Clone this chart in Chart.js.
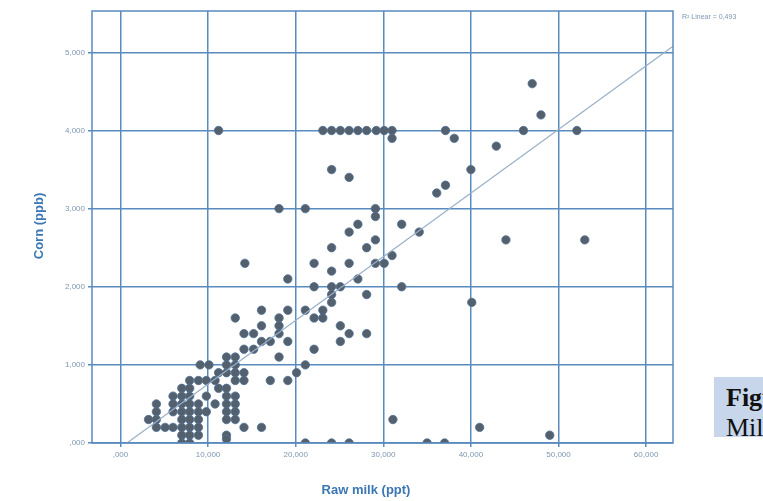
<!DOCTYPE html>
<html><head><meta charset="utf-8">
<script src="https://cdn.jsdelivr.net/npm/chart.js@4.4.1/dist/chart.umd.min.js"></script>
<style>
html,body{margin:0;padding:0;background:#fff;overflow:hidden;width:763px;height:501px}
#wrap{position:relative;width:763px;height:501px}
canvas{position:absolute;left:0;top:0}
#fig{position:absolute;left:714px;top:377px;width:60px;height:60px;background:#c7d6eb;overflow:hidden;font-family:"Liberation Serif","Times New Roman",serif;color:#111;font-size:26px;line-height:30px;padding:6px 0 0 12px;box-sizing:border-box;white-space:nowrap}
#fig b{font-weight:bold}
</style></head>
<body>
<div id="wrap">
<canvas id="c" width="763" height="501"></canvas>
<div id="fig"><b>Figure 4.</b><br>Milk</div>
</div>
<script>
// Raw milk (ppt) values, one per sample
const rawMilk = [
 11.2, 23.1, 24.1, 25.1, 26.1, 27.1, 28.1, 29.2, 30.1, 31.0, 31.0,
 37.1, 38.1, 42.9, 47.0, 48.0, 46.0, 52.1, 40.0, 37.1, 36.1, 32.1, 34.1, 44.0, 53.0, 31.0,
 24.1, 26.1, 18.1, 21.1, 29.1, 29.1, 27.1, 26.1, 24.1, 28.1, 29.1,
 14.2, 22.1, 26.1, 29.1, 30.1, 19.1, 24.1, 27.1, 22.1, 24.1, 25.1, 32.1,
 24.1, 24.1, 28.1, 40.1, 16.1, 19.1, 21.1, 23.1, 23.1, 22.1, 18.1, 18.1, 18.1,
 13.1, 16.1, 25.1, 15.2, 14.1, 26.1, 28.1, 16.1, 17.1, 19.1, 25.1,
 15.2, 14.1, 22.1, 18.1, 21.1, 20.1, 17.1, 19.1,
 16.1, 31.1, 41.0, 49.0, 21.1, 24.1, 26.1, 35.0, 37.0, 14.1, 14.1, 14.1,
 3.2, 4.1, 4.1, 4.1, 4.1, 5.1, 6.0, 6.0, 6.0, 6.0,
 7.0, 7.0, 7.0, 7.0, 7.0, 7.0, 7.0, 7.0,
 7.9, 7.9, 7.9, 7.9, 7.9, 7.9, 7.9, 7.9, 7.9,
 8.9, 8.9, 8.9, 8.9, 8.9, 8.9, 9.1, 9.8, 9.8, 9.8, 10.1, 10.8, 10.8, 11.2, 11.2,
 12.1, 12.1, 12.1, 12.1, 12.1, 12.1, 12.1, 12.1, 12.1, 12.1,
 13.1, 13.1, 13.1, 13.1, 13.1, 13.1, 13.1, 13.1
];
// Corn (ppb) values, same order
const corn = [
 4.0, 4.0, 4.0, 4.0, 4.0, 4.0, 4.0, 4.0, 4.0, 4.0, 3.9,
 4.0, 3.9, 3.8, 4.6, 4.2, 4.0, 4.0, 3.5, 3.3, 3.2, 2.8, 2.7, 2.6, 2.6, 2.4,
 3.5, 3.4, 3.0, 3.0, 3.0, 2.9, 2.8, 2.7, 2.5, 2.5, 2.6,
 2.3, 2.3, 2.3, 2.3, 2.3, 2.1, 2.2, 2.1, 2.0, 2.0, 2.0, 2.0,
 1.9, 1.8, 1.9, 1.8, 1.7, 1.7, 1.7, 1.7, 1.6, 1.6, 1.6, 1.5, 1.4,
 1.6, 1.5, 1.5, 1.4, 1.4, 1.4, 1.4, 1.3, 1.3, 1.3, 1.3,
 1.2, 1.2, 1.2, 1.1, 1.0, 0.9, 0.8, 0.8,
 0.2, 0.3, 0.2, 0.1, 0.0, 0.0, 0.0, 0.0, 0.0, 0.2, 0.8, 0.9,
 0.3, 0.5, 0.4, 0.3, 0.2, 0.2, 0.6, 0.5, 0.4, 0.2,
 0.7, 0.6, 0.5, 0.4, 0.3, 0.2, 0.1, 0.0,
 0.8, 0.7, 0.6, 0.5, 0.4, 0.3, 0.2, 0.1, 0.0,
 0.8, 0.5, 0.4, 0.3, 0.2, 0.1, 1.0, 0.8, 0.6, 0.4, 1.0, 0.8, 0.5, 0.9, 0.7,
 1.1, 1.0, 0.9, 0.7, 0.6, 0.5, 0.4, 0.3, 0.1, 0.05,
 1.1, 1.0, 0.9, 0.8, 0.6, 0.5, 0.4, 0.3
];
// Linear fit line end points
const fitX = [0.74, 63.07];
const fitY = [0.0, 5.08];
const xTicks = [0, 10, 20, 30, 40, 50, 60];
const yTicks = [0, 1, 2, 3, 4, 5];
const xTitle = 'Raw milk (ppt)';
const yTitle = 'Corn (ppb)';
const rSquaredLabel = 'R\u00B2 Linear = 0,493';

function fmt(v){ let s = Number(v).toFixed(3).replace('.', ','); if (s.startsWith('0,')) s = s.slice(1); return s; }

const gridCol = '#5a8bbf';
const tickCol = '#7e97b2';
const titleCol = '#3a77b4';
const FONT = '"Liberation Sans", Arial, sans-serif';

const extras = {
  id: 'extras',
  afterDraw(chart){
    const c = chart.ctx, a = chart.chartArea;
    c.save();
    c.strokeStyle = gridCol; c.lineWidth = 1.5;
    c.strokeRect(a.left, a.top, a.right - a.left, a.bottom - a.top);
    c.fillStyle = titleCol;
    c.font = 'bold 13px ' + FONT;
    c.textAlign = 'center'; c.textBaseline = 'middle';
    c.fillText(xTitle, 366, 490);
    c.save();
    c.translate(39, 226); c.rotate(-Math.PI/2);
    c.fillText(yTitle, 0, 0);
    c.restore();
    c.fillStyle = tickCol;
    c.font = '7px ' + FONT;
    c.textAlign = 'left';
    c.fillText(rSquaredLabel, 682, 17);
    c.restore();
  }
};

new Chart(document.getElementById('c'), {
  type: 'scatter',
  data: { datasets: [
    { data: rawMilk.map((x, i) => ({ x, y: corn[i] })), pointRadius: 4.2, pointHoverRadius: 4.2,
      backgroundColor: '#55606d', borderColor: '#4c6f97', borderWidth: 0.8, order: 1 },
    { type: 'line', data: fitX.map((x, i) => ({ x, y: fitY[i] })), borderColor: '#98b0c8', borderWidth: 1.2,
      pointRadius: 0, fill: false, order: 0 }
  ]},
  options: {
    responsive: false, animation: false, devicePixelRatio: 1,
    layout: { padding: { left: 0, right: 90, top: 11, bottom: 0 } },
    plugins: { legend: { display: false }, tooltip: { enabled: false } },
    scales: {
      x: { type: 'linear', min: -3.25, max: 63.07,
        afterBuildTicks: s => { s.ticks = xTicks.map(v => ({ value: v })); },
        afterFit: s => { s.height = 58; },
        grid: { color: gridCol, lineWidth: 1.5, tickLength: 4, drawTicks: true },
        border: { display: false },
        ticks: { callback: v => fmt(v), color: tickCol, font: { size: 8, family: FONT }, padding: 3, maxRotation: 0, autoSkip: false } },
      y: { type: 'linear', min: 0, max: 5.53,
        afterBuildTicks: s => { s.ticks = yTicks.map(v => ({ value: v })); },
        afterFit: s => { s.width = 92; },
        grid: { color: gridCol, lineWidth: 1.5, tickLength: 4, drawTicks: true },
        border: { display: false },
        ticks: { callback: v => fmt(v), color: tickCol, font: { size: 8, family: FONT }, padding: 3, autoSkip: false } }
    }
  },
  plugins: [extras]
});
</script>
</body></html>
